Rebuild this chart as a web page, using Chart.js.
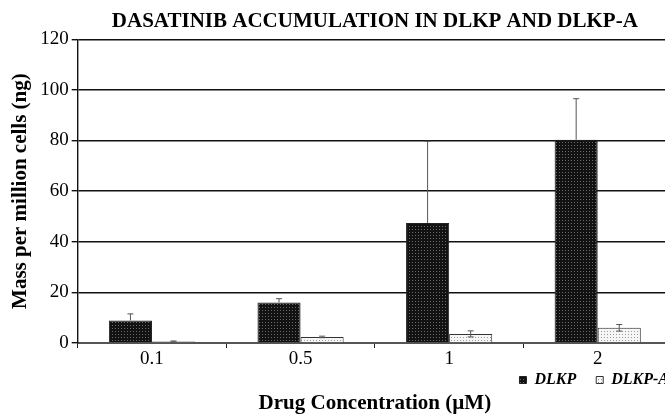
<!DOCTYPE html>
<html>
<head>
<meta charset="utf-8">
<script src="https://cdn.jsdelivr.net/npm/chart.js@4"></script>
<style>
    html, body { margin: 0; padding: 0; background: #fff; overflow: hidden; }
    .chart-wrap { width: 707px; height: 414px; }
</style>
</head>
<body>
<div class="chart-wrap"><canvas id="chart" width="707" height="414"></canvas></div>
<script>
// drug concentration (uM)
const categories = ['0.1', '0.5', '1', '2'];
// mass per million cells (ng)
const dlkp = [8.9, 16.0, 47.4, 80.3];
const dlkpErr = [2.6, 1.5, 32.3, 16.2];
const dlkpA = [0.6, 2.4, 3.6, 6.0];
const dlkpAErr = [0.2, 0.3, 1.2, 1.3];

const serif = 'Liberation Serif';

function dotPattern(bg, dot) {
    const tile = document.createElement('canvas');
    tile.width = 3;
    tile.height = 3;
    const c = tile.getContext('2d');
    c.fillStyle = bg;
    c.fillRect(0, 0, 3, 3);
    c.fillStyle = dot;
    c.fillRect(1, 1, 1, 1);
    return c.createPattern(tile, 'repeat');
}

// error bars, drawn from the y scale
const errorBars = {
    id: 'errorBars',
    afterDatasetsDraw(chart) {
        const ctx = chart.ctx;
        const y = chart.scales.y;
        chart.data.datasets.forEach((ds, i) => {
            const meta = chart.getDatasetMeta(i);
            meta.data.forEach((bar, j) => {
                const v = ds.data[j];
                const e = ds.errors[j];
                const top = y.getPixelForValue(v + e);
                const bottom = ds.plusOnly ? y.getPixelForValue(v) : y.getPixelForValue(v - e);
                ctx.save();
                ctx.strokeStyle = '#555';
                ctx.lineWidth = 1;
                ctx.beginPath();
                ctx.moveTo(bar.x, top);
                ctx.lineTo(bar.x, bottom);
                ctx.moveTo(bar.x - 3, top);
                ctx.lineTo(bar.x + 3, top);
                if (!ds.plusOnly) {
                    ctx.moveTo(bar.x - 3, bottom);
                    ctx.lineTo(bar.x + 3, bottom);
                }
                ctx.stroke();
                ctx.restore();
            });
        });
    }
};

new Chart(document.getElementById('chart'), {
    type: 'bar',
    data: {
        labels: categories,
        datasets: [{
            label: 'DLKP',
            data: dlkp,
            errors: dlkpErr,
            plusOnly: true,
            backgroundColor: dotPattern('#121212', '#6a6a6a'),
            borderColor: '#222',
            borderWidth: 1
        }, {
            label: 'DLKP-A',
            data: dlkpA,
            errors: dlkpAErr,
            plusOnly: false,
            backgroundColor: dotPattern('#f6f6f6', '#9a9a9a'),
            borderColor: '#333',
            borderWidth: 1
        }]
    },
    options: {
        responsive: false,
        animation: false,
        maintainAspectRatio: false,
        layout: {
            padding: {left: 8, right: 18, top: 0, bottom: 0}
        },
        datasets: {
            bar: {
                barPercentage: 1,
                categoryPercentage: 0.58
            }
        },
        scales: {
            x: {
                grid: {
                    drawOnChartArea: false,
                    drawTicks: true,
                    tickLength: 5,
                    color: '#222',
                    offset: true
                },
                border: {color: '#555', width: 2},
                ticks: {
                    color: '#000',
                    font: {family: serif, size: 19, lineHeight: 1},
                    // mirrored + negative padding: labels below the axis, not clipped by the short box
                    mirror: true,
                    padding: -26
                },
                // legend sits right under the tick labels
                afterFit(scale) {
                    scale.height = 9;
                }
            },
            y: {
                min: 0,
                max: 120,
                ticks: {
                    stepSize: 20,
                    color: '#000',
                    font: {family: serif, size: 19},
                    padding: 3
                },
                grid: {
                    color: '#111',
                    lineWidth: 1.4,
                    tickLength: 6
                },
                border: {color: '#111', width: 1.4},
                title: {
                    display: true,
                    text: 'Mass per million cells (ng)',
                    color: '#000',
                    font: {family: serif, size: 21, weight: 'bold'},
                    padding: {top: 0, bottom: 4}
                }
            },
            // empty spacer on the right so the legend can run past the plot edge
            spacer: {
                type: 'linear',
                position: 'right',
                grid: {display: false},
                border: {display: false},
                ticks: {display: false},
                afterFit(scale) {
                    scale.width = 17;
                }
            }
        },
        plugins: {
            title: {
                display: true,
                fullSize: false,
                text: 'DASATINIB ACCUMULATION IN DLKP AND DLKP-A',
                color: '#000',
                font: {family: serif, size: 21, weight: 'bold'},
                padding: {top: 9, bottom: 5}
            },
            subtitle: {
                display: true,
                position: 'bottom',
                fullSize: false,
                text: 'Drug Concentration (µM)',
                color: '#000',
                font: {family: serif, size: 21, weight: 'bold', lineHeight: 1},
                padding: {top: -5, bottom: 0}
            },
            legend: {
                position: 'bottom',
                align: 'end',
                labels: {
                    color: '#000',
                    boxWidth: 7,
                    boxHeight: 7,
                    padding: 20,
                    font: {family: serif, size: 16, weight: 'bold', style: 'italic', lineHeight: 1}
                }
            },
            tooltip: {enabled: false}
        }
    },
    plugins: [errorBars]
});
</script>
</body>
</html>
